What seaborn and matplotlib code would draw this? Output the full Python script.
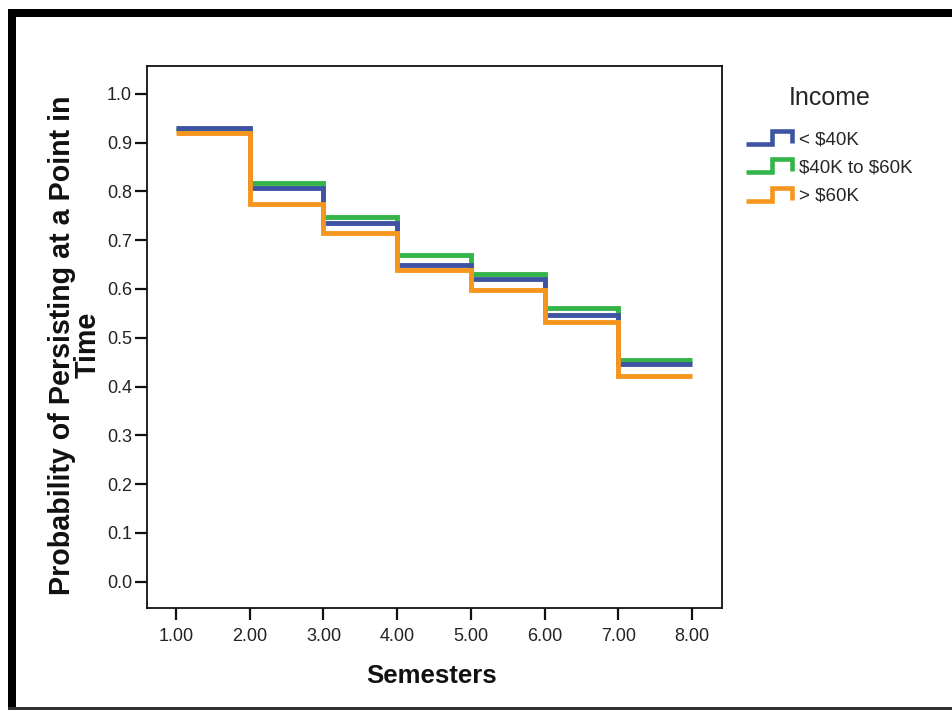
import matplotlib
matplotlib.use("Agg")
import matplotlib.pyplot as plt
from matplotlib.lines import Line2D
from matplotlib.legend_handler import HandlerBase
from matplotlib.patches import Rectangle
import seaborn as sns
import pandas as pd

# ---- data ----
semesters = [1, 2, 3, 4, 5, 6, 7, 8]
groups = ["< $40K", "$40K to $60K", "> $60K"]
low_income = [0.930, 0.807, 0.735, 0.649, 0.621, 0.547, 0.446]
mid_income = [0.928, 0.817, 0.748, 0.669, 0.630, 0.561, 0.454]
high_income = [0.920, 0.775, 0.714, 0.639, 0.598, 0.533, 0.422]
colors = ["#3E54A3", "#33B54A", "#F7961F"]
y_ticks = [0.0, 0.1, 0.2, 0.3, 0.4, 0.5, 0.6, 0.7, 0.8, 0.9, 1.0]
x_ticks = semesters

rows = []
for g, vals in zip(groups, [low_income, mid_income, high_income]):
    steps = vals + [vals[-1]]  # curve continues to the last semester
    for s, v in zip(semesters, steps):
        rows.append({"Semesters": s, "Prob": v, "Income": g})
df = pd.DataFrame(rows)

sns.set_theme(style="white")
plt.rcParams["font.family"] = ["Liberation Sans", "DejaVu Sans"]
plt.rcParams["text.parse_math"] = False

fig = plt.figure(figsize=(9.53, 7.10), dpi=100)
ax = fig.add_axes([146.7 / 953, 1 - 608 / 710, 575 / 953, 542 / 710])

sns.lineplot(data=df, x="Semesters", y="Prob", hue="Income", hue_order=groups,
             palette=colors, estimator=None, drawstyle="steps-post",
             linewidth=3.5, ax=ax, legend=False)
# draw order: green under blue, orange on top
ax.lines[0].set_zorder(2.2)
ax.lines[1].set_zorder(2.1)
ax.lines[2].set_zorder(2.3)
for ln in ax.lines:
    ln.set_solid_joinstyle("miter")
    ln.set_solid_capstyle("butt")

ax.set_xlim(0.603, 8.40)
ax.set_ylim(-0.054, 1.057)
ax.set_xticks(x_ticks)
ax.set_xticklabels([f"{v:.2f}" for v in x_ticks])
ax.set_yticks(y_ticks)
ax.set_yticklabels([f"{v:.1f}" for v in y_ticks])
ax.tick_params(axis="both", which="major", direction="out", length=8.5, width=1.6,
               color="#111111", labelsize=13, labelcolor="#222222", pad=2,
               left=True, bottom=True)
ax.tick_params(axis="x", pad=6)
for sp in ax.spines.values():
    sp.set_color("#111111")
    sp.set_linewidth(1.3)
    sp.set_visible(True)

ax.set_xlabel("Semesters", fontsize=18.5, fontweight="bold", color="#111111", va="center")
ax.xaxis.set_label_coords(0.496, -0.125)
ax.set_ylabel("Probability of Persisting at a Point in\nTime", fontsize=20.6,
              fontweight="bold", color="#111111", va="center", ha="center",
              multialignment="center", linespacing=0.9)
ax.yaxis.set_label_coords(-0.125, 0.485)


class StepHandler(HandlerBase):
    def create_artists(self, legend, orig_handle, xdescent, ydescent, width, height,
                       fontsize, trans):
        x0, y0 = -xdescent, -ydescent
        xs = [x0, x0 + 0.57 * width, x0 + 0.57 * width, x0 + width, x0 + width]
        ys = [y0, y0, y0 + height, y0 + height, y0 + 0.1 * height]
        ln = Line2D(xs, ys, color=orig_handle.get_color(), linewidth=3.3,
                    solid_joinstyle="miter", solid_capstyle="butt", transform=trans)
        return [ln]


handles = [Line2D([], [], color=c) for c in colors]
leg = fig.legend(handles, groups, title="Income", loc="upper left",
                 bbox_to_anchor=(733 / 953, 1 - 73 / 710), frameon=False,
                 fontsize=13.5, title_fontsize=18, handlelength=2.45, handleheight=0.7,
                 handletextpad=0.38, labelspacing=0.6, borderpad=0.2,
                 handler_map={Line2D: StepHandler()})
leg._legend_box.sep = 15

# outer frame of the picture
W, H = 953.0, 710.0
fig.add_artist(Rectangle((8 / W, 1 - 17 / H), 1 - 8 / W, 8 / H, transform=fig.transFigure,
                         facecolor="black", edgecolor="none"))
fig.add_artist(Rectangle((8 / W, 0), 8 / W, 1 - 9 / H, transform=fig.transFigure,
                         facecolor="black", edgecolor="none"))
fig.add_artist(Rectangle((8 / W, 0.5 / H), 1 - 8 / W, 2.2 / H, transform=fig.transFigure,
                         facecolor="#333333", edgecolor="none"))

fig.savefig("out.png", dpi=100)
